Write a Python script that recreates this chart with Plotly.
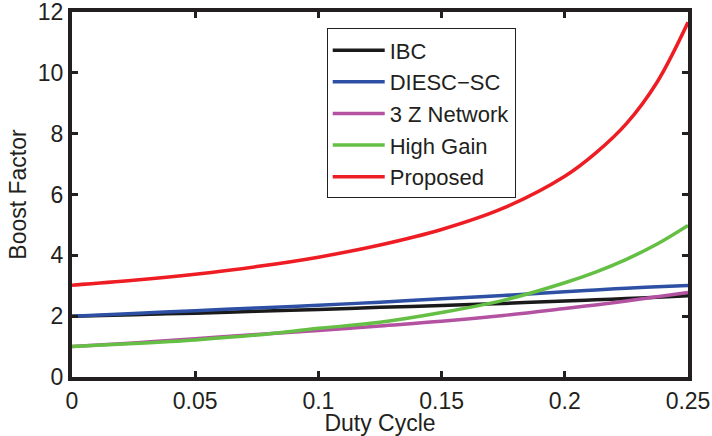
import plotly.graph_objects as go

duty = [0, 0.025, 0.05, 0.075, 0.1, 0.125, 0.15, 0.175, 0.2, 0.2125, 0.225, 0.2375, 0.25]

ibc = [2.0, 2.05, 2.1, 2.16, 2.22, 2.29, 2.35, 2.42, 2.5, 2.54, 2.58, 2.62, 2.67]
diesc = [2.0, 2.09, 2.18, 2.27, 2.36, 2.46, 2.57, 2.68, 2.8, 2.86, 2.92, 2.97, 3.01]
z3 = [1.0, 1.12, 1.26, 1.4, 1.53, 1.68, 1.83, 2.02, 2.25, 2.37, 2.5, 2.64, 2.78]
high_gain = [1.0, 1.1, 1.22, 1.38, 1.6, 1.8, 2.12, 2.52, 3.1, 3.45, 3.87, 4.37, 4.98]
proposed = [3.02, 3.18, 3.38, 3.63, 3.94, 4.34, 4.85, 5.55, 6.6, 7.36, 8.33, 9.7, 11.66]

names = ["IBC", "DIESC\u2212SC", "3 Z Network", "High Gain", "Proposed"]
series = [ibc, diesc, z3, high_gain, proposed]
colors = ["#1a1a1a", "#2d50a5", "#b452a2", "#66bf45", "#ee1d24"]

xticks = [0, 0.05, 0.1, 0.15, 0.2, 0.25]
xticktext = ["0", "0.05", "0.1", "0.15", "0.2", "0.25"]
yticks = [0, 2, 4, 6, 8, 10, 12]

fig = go.Figure()
for n, s, c in zip(names, series, colors):
    fig.add_trace(go.Scatter(x=duty, y=s, mode="lines", name=n,
                             line=dict(color=c, width=3.5, shape="spline", smoothing=1.0)))

FAM = "Liberation Sans, Arial, sans-serif"
font = dict(family=FAM, size=23, color="#231f20")
axis_common = dict(showline=True, linewidth=4, linecolor="#231f20", mirror="ticks",
                   ticks="inside", ticklen=6, tickwidth=3, tickcolor="#231f20",
                   showgrid=False, zeroline=False, tickfont=font, automargin=False,
                   ticklabeloverflow="allow")

fig.update_layout(
    width=712, height=436,
    margin=dict(l=72, r=24, t=12, b=59),
    paper_bgcolor="white", plot_bgcolor="white",
    font=font,
    xaxis=dict(range=[0, 0.25], tickvals=xticks, ticktext=xticktext,
               title=dict(text="Duty Cycle", font=font, standoff=0), **axis_common),
    yaxis=dict(range=[0, 12], tickvals=yticks,
               title=dict(text="Boost Factor", font=font, standoff=6), **axis_common),
    legend=dict(x=0.4135, y=0.955, xanchor="left", yanchor="top",
                bordercolor="#231f20", borderwidth=1, bgcolor="white",
                font=dict(family=FAM, size=22, color="#231f20"),
                itemwidth=52, tracegroupgap=0),
    showlegend=True,
)

fig.write_html("out.html", config={"displayModeBar": False},
               post_script="document.body.style.margin='0';document.body.style.overflow='hidden';")
